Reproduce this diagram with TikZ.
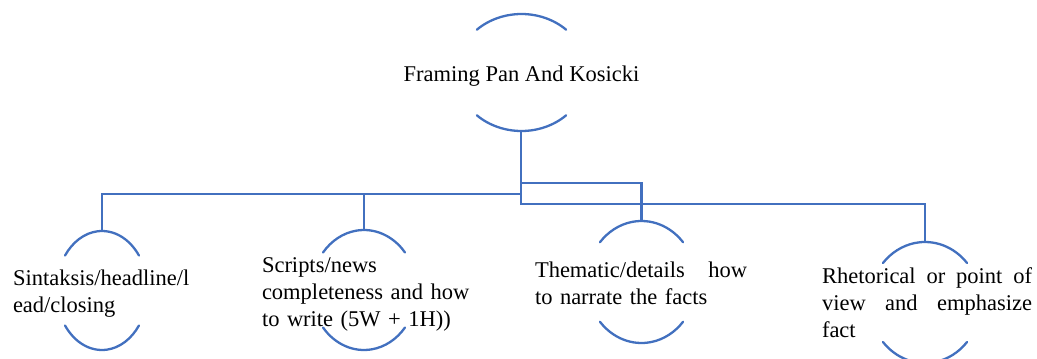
\documentclass[tikz,border=0pt]{standalone}
\usepackage{fontspec}
\setmainfont{Liberation Serif}
\definecolor{lineblue}{HTML}{4270BF}
\tikzset{
  conn/.style={draw=lineblue, line width=2.3pt},
  capline/.style={draw=lineblue, line width=2.3pt, line cap=round},
  txt/.style={inner sep=0pt, outer sep=0pt, font=\fontsize{22.5}{27}\selectfont, text=black},
  multitxt/.style={txt, align=left, anchor=base west},
}
\newcommand{\capsarcs}[4]{%
  \draw[capline] ([shift={(#4:#2pt and #3pt)}]#1) arc[start angle=#4, end angle=180-#4, x radius=#2pt, y radius=#3pt];
  \draw[capline] ([shift={(180+#4:#2pt and #3pt)}]#1) arc[start angle=180+#4, end angle=360-#4, x radius=#2pt, y radius=#3pt];}
\begin{document}
\begin{tikzpicture}[x=1pt, y=-1pt]
\useasboundingbox (0,0) rectangle (1037,359);
% shape centres
\coordinate (c0) at (521.5,72.5);
\coordinate (c1) at (102,290.5);
\coordinate (c2) at (364,290);
\coordinate (c3) at (641.5,282);
\coordinate (c4) at (925,302.5);
% arc caps
\capsarcs{c0}{65.5}{58.5}{47}
\capsarcs{c1}{45.7}{59.5}{36}
\capsarcs{c2}{52.5}{60}{38.7}
\capsarcs{c3}{54.8}{61}{40.7}
\capsarcs{c4}{55.5}{60.5}{40.8}
% texts
\node[txt, anchor=base] (root) at (521.5,81) {Framing Pan And Kosicki};
\node[multitxt, text width=195pt] (n1) at (13,285) {Sintaksis/headline/l\\ead/closing};
\node[multitxt, text width=215pt] (n2) at (262,272) {Scripts/news\\completeness and how\\to write (5W + 1H))};
\node[multitxt, text width=212pt] (n3) at (535,277) {Thematic/details\hfill how\\to narrate the facts};
\node[multitxt, text width=210pt] (n4) at (822,283) {Rhetorical\hfill or\hfill point\hfill of\\view\hfill and\hfill emphasize\\fact};
% connector end points
\coordinate (rb) at (521,131);
\coordinate (lv1) at (521,183);
\coordinate (lv2) at (521,194);
\coordinate (lv3) at (521,204);
\coordinate (t1) at (102,232);
\coordinate (t2) at (364,230);
\coordinate (t3) at (641.5,221);
\coordinate (t4) at (925,242);
% connectors
\draw[conn] (rb) -- (lv3) -| (t4);
\draw[conn] (lv2) -| (t1);
\draw[conn] (lv1) -| (t3);
\draw[conn] (t2 |- lv2) -- (t2);
\end{tikzpicture}
\end{document}
